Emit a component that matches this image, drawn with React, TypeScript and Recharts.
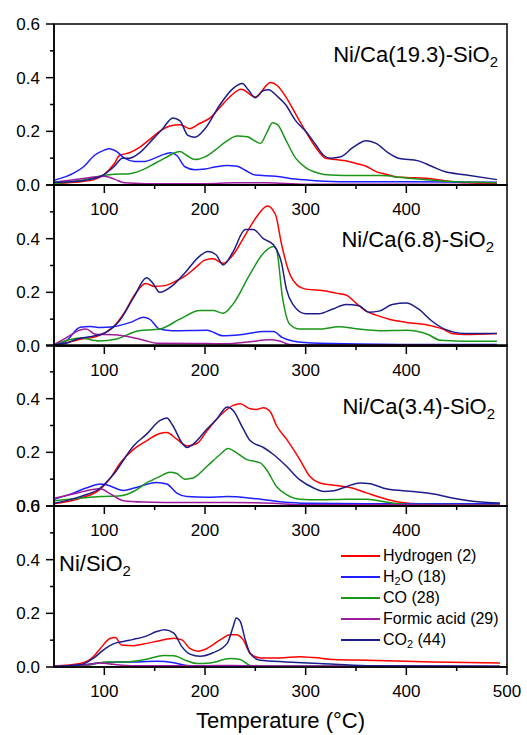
import React from "react";
import { LineChart, Line, XAxis, YAxis, ReferenceArea, Legend } from "recharts";

type Pt = [number, number];

// series order: Hydrogen, H2O, CO, formic acid, CO2
const seriesLabels: [string, string, string][] = [
  ["Hydrogen (2)", "", ""],
  ["H", "2", "O (18)"],
  ["CO (28)", "", ""],
  ["Formic acid (29)", "", ""],
  ["CO", "2", " (44)"],
];
const seriesColors = ["#ff0000", "#1f1fff", "#1a961a", "#9c1c9c", "#1c1c8a"];

const panelTitles: [string, string][] = [
  ["Ni/Ca(19.3)-SiO", "2"],
  ["Ni/Ca(6.8)-SiO", "2"],
  ["Ni/Ca(3.4)-SiO", "2"],
  ["Ni/SiO", "2"],
];

const xTicks = [100, 150, 200, 250, 300, 350, 400, 450];
const xTicksLast = [100, 150, 200, 250, 300, 350, 400, 450, 500];
const yTicks = [0, 0.1, 0.2, 0.3, 0.4, 0.5, 0.6];

// ---- Ni/Ca(19.3)-SiO2 ----
const h2A: Pt[] = [[50,0.005],[70,0.01],[90,0.02],[100,0.04],[110,0.08],[115,0.11],[125,0.12],[135,0.14],[145,0.17],[155,0.2],[165,0.22],[175,0.225],[185,0.21],[195,0.23],[205,0.25],[215,0.29],[225,0.33],[236,0.357],[250,0.328],[265,0.382],[272,0.37],[280,0.33],[290,0.265],[300,0.2],[310,0.14],[320,0.1],[330,0.095],[340,0.09],[350,0.08],[360,0.07],[370,0.05],[380,0.04],[390,0.03],[400,0.028],[420,0.025],[440,0.015],[460,0.008],[490,0.005]];
const h2oA: Pt[] = [[50,0.018],[70,0.045],[80,0.07],[90,0.11],[100,0.13],[105,0.135],[112,0.125],[120,0.1],[130,0.088],[140,0.088],[150,0.1],[160,0.115],[166,0.12],[172,0.11],[180,0.068],[190,0.057],[200,0.06],[210,0.067],[222,0.073],[232,0.07],[240,0.055],[250,0.037],[270,0.033],[290,0.022],[310,0.016],[340,0.012],[400,0.012],[490,0.01]];
const coA: Pt[] = [[50,0.005],[80,0.02],[95,0.033],[110,0.04],[125,0.042],[140,0.06],[150,0.08],[160,0.1],[170,0.12],[175,0.125],[182,0.11],[190,0.095],[200,0.105],[210,0.13],[220,0.16],[232,0.183],[242,0.18],[255,0.155],[262,0.2],[267,0.232],[272,0.225],[280,0.17],[290,0.1],[300,0.065],[312,0.045],[325,0.037],[350,0.035],[375,0.035],[395,0.028],[420,0.02],[450,0.012],[490,0.008]];
const faA: Pt[] = [[50,0.01],[70,0.02],[90,0.03],[100,0.033],[110,0.022],[120,0.008],[140,0.005],[200,0.005],[230,0.008],[260,0.008],[300,0.003],[400,0.003],[490,0.002]];
const co2A: Pt[] = [[50,0.01],[70,0.013],[85,0.02],[100,0.04],[110,0.07],[118,0.1],[125,0.1],[135,0.12],[148,0.17],[158,0.21],[168,0.25],[175,0.24],[183,0.185],[190,0.178],[200,0.21],[215,0.3],[228,0.36],[237,0.378],[243,0.355],[250,0.325],[257,0.35],[263,0.355],[272,0.33],[280,0.3],[290,0.24],[300,0.2],[310,0.15],[318,0.11],[325,0.1],[335,0.105],[347,0.14],[360,0.165],[370,0.155],[382,0.12],[392,0.1],[412,0.09],[425,0.07],[438,0.05],[458,0.038],[490,0.02]];

// ---- Ni/Ca(6.8)-SiO2 ----
const h2B: Pt[] = [[50,0.005],[62,0.012],[76,0.025],[92,0.035],[101,0.05],[110,0.075],[120,0.125],[130,0.19],[141,0.233],[150,0.222],[160,0.225],[170,0.24],[180,0.26],[190,0.29],[200,0.32],[208,0.325],[218,0.308],[228,0.34],[241,0.42],[251,0.48],[262,0.522],[270,0.49],[276,0.38],[283,0.28],[292,0.225],[300,0.212],[320,0.205],[330,0.197],[340,0.19],[350,0.16],[360,0.13],[370,0.115],[385,0.098],[400,0.088],[425,0.075],[437,0.062],[445,0.047],[458,0.043],[490,0.047]];
const h2oB: Pt[] = [[50,0.005],[62,0.019],[76,0.07],[86,0.073],[96,0.069],[109,0.072],[126,0.088],[139,0.107],[145,0.1],[155,0.063],[168,0.057],[202,0.059],[218,0.038],[235,0.042],[258,0.054],[268,0.054],[277,0.031],[287,0.019],[313,0.01],[393,0.006],[490,0.006]];
const coB: Pt[] = [[50,0.005],[76,0.03],[95,0.019],[111,0.025],[134,0.057],[155,0.063],[175,0.1],[195,0.132],[208,0.132],[218,0.122],[228,0.157],[245,0.27],[258,0.346],[268,0.371],[271,0.36],[277,0.18],[284,0.082],[294,0.063],[313,0.063],[333,0.072],[353,0.063],[373,0.057],[400,0.059],[421,0.044],[434,0.021],[454,0.018],[490,0.018]];
const faB: Pt[] = [[50,0.005],[62,0.03],[76,0.06],[82,0.063],[91,0.044],[109,0.042],[129,0.031],[142,0.019],[152,0.01],[202,0.009],[221,0.008],[245,0.016],[264,0.023],[274,0.019],[284,0.006],[313,0.004],[490,0.003]];
const co2B: Pt[] = [[50,0.005],[62,0.01],[72,0.025],[91,0.038],[101,0.05],[115,0.094],[129,0.18],[142,0.254],[148,0.235],[155,0.2],[168,0.226],[181,0.277],[195,0.336],[203,0.352],[211,0.34],[218,0.302],[228,0.352],[240,0.434],[248,0.434],[258,0.4],[268,0.377],[276,0.31],[281,0.21],[287,0.157],[300,0.12],[313,0.12],[327,0.138],[340,0.155],[353,0.15],[363,0.126],[373,0.13],[386,0.155],[400,0.16],[412,0.138],[425,0.094],[438,0.063],[458,0.047],[490,0.047]];

// ---- Ni/Ca(3.4)-SiO2 ----
const h2C: Pt[] = [[50,0.008],[76,0.029],[96,0.063],[106,0.104],[116,0.161],[129,0.211],[142,0.243],[155,0.27],[162,0.274],[172,0.249],[182,0.224],[192,0.233],[202,0.28],[215,0.337],[228,0.375],[235,0.381],[245,0.362],[251,0.36],[258,0.366],[265,0.35],[271,0.3],[281,0.249],[294,0.174],[304,0.111],[314,0.086],[328,0.077],[344,0.069],[361,0.048],[377,0.029],[394,0.014],[414,0.008],[493,0.008]];
const h2oC: Pt[] = [[50,0.025],[69,0.048],[82,0.067],[96,0.082],[102,0.079],[119,0.058],[135,0.073],[152,0.088],[162,0.082],[172,0.048],[182,0.035],[202,0.033],[222,0.035],[248,0.028],[275,0.016],[301,0.01],[361,0.008],[493,0.008]];
const coC: Pt[] = [[50,0.02],[76,0.029],[96,0.035],[116,0.038],[129,0.054],[142,0.086],[155,0.11],[165,0.126],[172,0.121],[180,0.1],[188,0.104],[202,0.148],[215,0.192],[223,0.214],[231,0.199],[241,0.174],[255,0.161],[261,0.136],[271,0.073],[281,0.042],[294,0.025],[314,0.023],[341,0.025],[361,0.025],[381,0.014],[400,0.006],[493,0.005]];
const faC: Pt[] = [[50,0.029],[69,0.045],[86,0.06],[96,0.064],[106,0.045],[119,0.02],[139,0.015],[178,0.013],[222,0.013],[268,0.01],[294,0.005],[493,0.004]];
const co2C: Pt[] = [[50,0.01],[76,0.035],[96,0.067],[109,0.117],[129,0.224],[142,0.268],[155,0.318],[162,0.328],[168,0.3],[177,0.236],[182,0.218],[188,0.23],[202,0.287],[212,0.325],[222,0.369],[228,0.356],[238,0.287],[245,0.243],[258,0.218],[268,0.192],[281,0.148],[294,0.098],[308,0.067],[318,0.054],[328,0.057],[341,0.073],[354,0.086],[364,0.083],[381,0.063],[407,0.054],[427,0.045],[447,0.029],[466,0.018],[493,0.011]];

// ---- Ni/SiO2 ----
const h2D: Pt[] = [[50,0.004],[76,0.013],[89,0.038],[96,0.069],[106,0.107],[111,0.11],[117,0.082],[129,0.079],[142,0.088],[155,0.098],[169,0.107],[177,0.101],[185,0.069],[193,0.059],[202,0.069],[215,0.101],[225,0.12],[231,0.12],[238,0.101],[245,0.05],[255,0.034],[274,0.034],[294,0.038],[308,0.035],[328,0.028],[361,0.025],[427,0.019],[493,0.015]];
const h2oD: Pt[] = [[50,0.002],[82,0.009],[96,0.016],[106,0.018],[129,0.019],[152,0.021],[169,0.016],[182,0.006],[202,0.004],[261,0.003],[493,0.002]];
const coD: Pt[] = [[50,0.001],[82,0.006],[102,0.019],[122,0.019],[142,0.029],[159,0.043],[169,0.042],[182,0.023],[192,0.013],[205,0.015],[225,0.032],[235,0.028],[245,0.006],[261,0.004],[493,0.001]];
const faD: Pt[] = [[50,0.002],[82,0.008],[96,0.015],[109,0.01],[129,0.005],[195,0.005],[228,0.006],[261,0.004],[493,0.002]];
const co2D: Pt[] = [[50,0.001],[76,0.008],[89,0.032],[99,0.063],[109,0.086],[119,0.095],[129,0.103],[142,0.116],[152,0.132],[160,0.139],[169,0.126],[177,0.076],[185,0.048],[195,0.04],[208,0.053],[222,0.088],[228,0.151],[231,0.183],[235,0.17],[240,0.101],[245,0.05],[255,0.025],[281,0.019],[314,0.013],[361,0.005],[493,0.003]];

const panels: Pt[][][] = [
  [h2A, h2oA, coA, faA, co2A],
  [h2B, h2oB, coB, faB, co2B],
  [h2C, h2oC, coC, faC, co2C],
  [h2D, h2oD, coD, faD, co2D],
];

const plotTops = [24, 185, 345, 506];
const PLOT_H = 161;
const FONT = "'Liberation Sans', Arial, sans-serif";

const XTick = (p: any) => {
  const v = p.payload.value;
  const major = v % 100 === 0;
  return (
    <g>
      <line x1={p.x} x2={p.x} y1={p.y} y2={p.y + (major ? 8 : 4)} stroke="#000" strokeWidth={1.5} />
      {major && (
        <text x={p.x} y={p.y + 18} dy="0.71em" textAnchor="middle" fontSize={17} fill="#000">
          {v}
        </text>
      )}
    </g>
  );
};

const YTick = (p: any, hideTop: boolean) => {
  const v = p.payload.value;
  const major = Math.round(v * 10) % 2 === 0;
  return (
    <g>
      <line x1={p.x - (major ? 8 : 4)} x2={p.x} y1={p.y} y2={p.y} stroke="#000" strokeWidth={1.5} />
      {major && !(hideTop && v === 0.6) && (
        <text x={p.x - 14} y={p.y} dy="0.36em" textAnchor="end" fontSize={17} fill="#000">
          {v.toFixed(1)}
        </text>
      )}
    </g>
  );
};

const Sub = ({ children }: any) => (
  <sub style={{ fontSize: "0.68em", lineHeight: 0, verticalAlign: "-0.32em" }}>{children}</sub>
);

const renderLegend = () => (
  <div style={{ fontSize: 16, color: "#000", fontFamily: FONT }}>
    {seriesLabels.map((l, i) => (
      <div key={i} style={{ display: "flex", alignItems: "center", height: 21.2, whiteSpace: "nowrap" }}>
        <span style={{ display: "inline-block", width: 39, height: 2, background: seriesColors[i], marginRight: 3 }} />
        <span>
          {l[0]}
          {l[1] && <Sub>{l[1]}</Sub>}
          {l[2]}
        </span>
      </div>
    ))}
  </div>
);

const titlePos = [
  { top: 49 - 18.6, right: 29 },
  { top: 73 - 18.6, right: 33 },
  { top: 80 - 18.6, right: 32 },
  { top: 76 - 18.6, left: 59 },
];

function Panel({ idx }: { idx: number }) {
  const last = idx === 3;
  const axisH = last ? 66 : 40;
  const top = plotTops[idx] - 10;
  const hideTop = idx === 1 || idx === 2;
  const tp: any = titlePos[idx];
  return (
    <div style={{ position: "absolute", left: 0, top, width: 527 }}>
      <LineChart width={527} height={10 + PLOT_H + axisH} margin={{ top: 10, right: 20, bottom: 0, left: 0 }}>
        <XAxis
          type="number"
          dataKey="t"
          domain={[50, 500]}
          ticks={last ? xTicksLast : xTicks}
          interval={0}
          tickSize={0}
          tickMargin={0}
          tick={(p: any) => <XTick {...p} />}
          height={axisH}
          axisLine={{ stroke: "#000", strokeWidth: 1.5 }}
          allowDataOverflow
          label={
            last
              ? { value: "Temperature (°C)", position: "insideBottom", offset: 5, fontSize: 22, fill: "#000" }
              : undefined
          }
        />
        <YAxis
          type="number"
          domain={[0, 0.6]}
          ticks={yTicks}
          interval={0}
          width={54}
          tickSize={0}
          tickMargin={0}
          tick={(p: any) => YTick(p, hideTop)}
          axisLine={{ stroke: "#000", strokeWidth: 1.5 }}
          allowDataOverflow
        />
        <ReferenceArea x1={50} x2={500} y1={0} y2={0.6} fill="none" stroke="#000" strokeWidth={1.5} />
        {panels[idx].map((pts, i) => (
          <Line
            key={i}
            data={pts.map(([t, v]) => ({ t, v }))}
            dataKey="v"
            type="monotone"
            stroke={seriesColors[i]}
            strokeWidth={1.5}
            dot={false}
            activeDot={false}
            isAnimationActive={false}
          />
        ))}
        {last && (
          <Legend
            layout="vertical"
            align="center"
            verticalAlign="middle"
            content={renderLegend}
            wrapperStyle={{ position: "absolute", left: 341, top: 49, width: 180, height: 110 }}
          />
        )}
      </LineChart>
      <div
        style={{
          position: "absolute",
          ...tp,
          fontSize: 22,
          lineHeight: "22px",
          color: "#000",
          whiteSpace: "nowrap",
        }}
      >
        {panelTitles[idx][0]}
        <Sub>{panelTitles[idx][1]}</Sub>
      </div>
    </div>
  );
}

export default function App() {
  return (
    <div style={{ fontFamily: FONT, width: 527, height: 735, position: "absolute", left: 0, top: 0, overflow: "hidden" }}>
      {[0, 1, 2, 3].map((i) => (
        <Panel key={i} idx={i} />
      ))}
    </div>
  );
}
